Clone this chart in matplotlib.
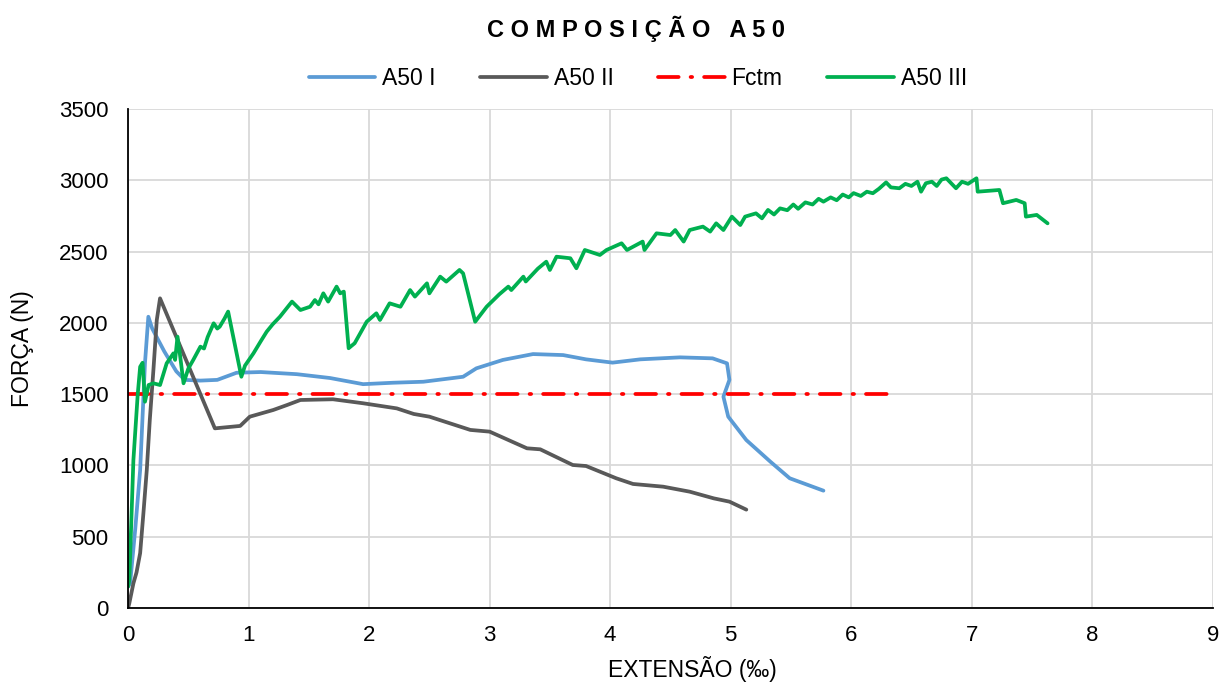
import matplotlib.pyplot as plt

plt.rcParams['font.family'] = ['Liberation Sans', 'DejaVu Sans']

# A50 I - strain (permille) and force (N)
ext_a50_1 = [0.0, 0.017, 0.06, 0.10, 0.14, 0.168, 0.20, 0.30, 0.40, 0.47, 0.60, 0.74,
             0.90, 1.10, 1.40, 1.676, 1.95, 2.20, 2.45, 2.78, 2.89, 3.11, 3.36, 3.61,
             3.80, 4.02, 4.25, 4.58, 4.85, 4.97, 4.99, 4.94, 4.98, 5.13, 5.33, 5.49, 5.77]
f_a50_1 = [150, 175, 560, 968, 1718, 2043, 1960, 1800, 1660, 1600, 1595, 1600,
           1650, 1655, 1640, 1613, 1570, 1580, 1587, 1622, 1681, 1740, 1781, 1774,
           1744, 1721, 1744, 1758, 1751, 1716, 1600, 1482, 1342, 1178, 1026, 910, 823]

# A50 II
ext_a50_2 = [0.0, 0.01, 0.044, 0.07, 0.10, 0.127, 0.155, 0.18, 0.21, 0.238, 0.265,
             0.72, 0.93, 1.01, 1.205, 1.32, 1.43, 1.70, 1.95, 2.23, 2.37, 2.50,
             2.84, 3.00, 3.31, 3.42, 3.69, 3.80, 4.05, 4.19, 4.44, 4.66, 4.86, 4.99, 5.13]
f_a50_2 = [0, 33, 173, 250, 385, 664, 968, 1319, 1669, 2020, 2172,
           1260, 1277, 1342, 1389, 1424, 1459, 1464, 1436, 1400, 1361, 1342,
           1249, 1237, 1120, 1113, 1003, 996, 910, 870, 851, 816, 769, 746, 690]

# Fctm reference level
ext_fctm = [0.0, 6.32]
f_fctm = [1500, 1500]

# A50 III
ext_a50_3 = [0.0, 0.01, 0.044, 0.08, 0.10, 0.12, 0.14, 0.17, 0.21, 0.265, 0.32, 0.376,
             0.39, 0.41, 0.43, 0.46, 0.50, 0.54, 0.60, 0.63, 0.66, 0.71, 0.74, 0.76,
             0.80, 0.83, 0.94, 0.97, 1.04, 1.10, 1.15, 1.20, 1.26, 1.36, 1.43, 1.51,
             1.55, 1.58, 1.62, 1.66, 1.73, 1.76, 1.79, 1.83, 1.88, 1.98, 2.06, 2.09,
             2.17, 2.26, 2.34, 2.38, 2.48, 2.50, 2.59, 2.64, 2.75, 2.78, 2.88, 2.975,
             3.08, 3.155, 3.18, 3.28, 3.30, 3.40, 3.47, 3.50, 3.555, 3.67, 3.72, 3.79,
             3.915, 3.97, 4.095, 4.14, 4.27, 4.285, 4.385, 4.50, 4.54, 4.61, 4.66, 4.77,
             4.83, 4.88, 4.94, 5.01, 5.08, 5.12, 5.21, 5.26, 5.31, 5.36, 5.41, 5.47,
             5.52, 5.56, 5.62, 5.68, 5.73, 5.77, 5.83, 5.88, 5.93, 5.98, 6.02, 6.08,
             6.13, 6.18, 6.23, 6.29, 6.33, 6.40, 6.45, 6.50, 6.55, 6.58, 6.62, 6.67,
             6.71, 6.75, 6.79, 6.84, 6.87, 6.92, 6.97, 7.04, 7.05, 7.23, 7.26, 7.37,
             7.44, 7.45, 7.54, 7.63]
f_a50_3 = [150, 196, 1038, 1500, 1692, 1720, 1447, 1564, 1576, 1564, 1716, 1786,
           1740, 1903, 1780, 1576, 1680, 1739, 1833, 1820, 1900, 1997, 1960, 1973,
           2030, 2079, 1622, 1700, 1786, 1870, 1938, 1990, 2043, 2149, 2090, 2113,
           2160, 2130, 2207, 2149, 2254, 2207, 2219, 1822, 1857, 2008, 2067, 2020,
           2137, 2113, 2230, 2184, 2277, 2207, 2324, 2289, 2371, 2347, 2008, 2113,
           2200, 2254, 2230, 2324, 2290, 2380, 2429, 2371, 2464, 2453, 2383, 2511,
           2476, 2511, 2558, 2511, 2570, 2511, 2628, 2616, 2651, 2570, 2651, 2675,
           2640, 2698, 2651, 2745, 2686, 2745, 2768, 2733, 2792, 2760, 2803, 2790,
           2830, 2800, 2845, 2830, 2870, 2850, 2880, 2860, 2900, 2880, 2910, 2890,
           2920, 2909, 2940, 2985, 2950, 2944, 2975, 2960, 2990, 2920, 2979, 2990,
           2960, 3005, 3014, 2970, 2944, 2990, 2975, 3014, 2920, 2932, 2839, 2862,
           2839, 2745, 2757, 2698]

fig = plt.figure(figsize=(12.2, 6.85), dpi=100)
ax = fig.add_axes([0.105, 0.1124, 0.889, 0.7285])

lw = 2.7
ax.plot(ext_a50_1, f_a50_1, color='#5B9BD5', lw=lw, label='A50 I', solid_capstyle='round')
ax.plot(ext_a50_2, f_a50_2, color='#595959', lw=lw, label='A50 II', solid_capstyle='round')
ax.plot(ext_fctm, f_fctm, color='#FF0000', lw=lw, label='Fctm',
        dashes=(5.5, 3.2, 0.4, 3.2), dash_capstyle='round')
ax.plot(ext_a50_3, f_a50_3, color='#00B050', lw=lw, label='A50 III', solid_capstyle='round')

ax.set_xlim(0, 9)
ax.set_ylim(0, 3500)
ax.set_xticks(range(0, 10))
ax.set_yticks(range(0, 3501, 500))
ax.grid(True, color='#D9D9D9', lw=1.3)
ax.set_axisbelow(True)
ax.tick_params(length=0, labelsize=16)
ax.tick_params(axis='y', pad=14)
ax.tick_params(axis='x', pad=12)
for side in ['top', 'right']:
    ax.spines[side].set_visible(False)
for side in ['left', 'bottom']:
    ax.spines[side].set_color('black')
    ax.spines[side].set_linewidth(1.3)

# axis titles
ax.set_xlabel('EXTENSÃO (‰)', fontsize=16.5)
ax.xaxis.label.set_va('baseline')
ax.xaxis.set_label_coords(0.52, -0.138)
ax.set_ylabel('FORÇA (N)', fontsize=16.5)
ax.yaxis.set_label_coords(-0.087, 0.52)

fig.text(0.521, 0.958, 'C O M P O S I Ç Ã O   A 5 0', ha='center', va='center',
         fontsize=17, fontweight='bold')

ax.legend(loc='center', bbox_to_anchor=(0.47, 1.062), ncol=4, frameon=False,
          fontsize=16.5, handlelength=2.9, columnspacing=1.95, handletextpad=0.3)

fig.savefig('out.png', dpi=100)
